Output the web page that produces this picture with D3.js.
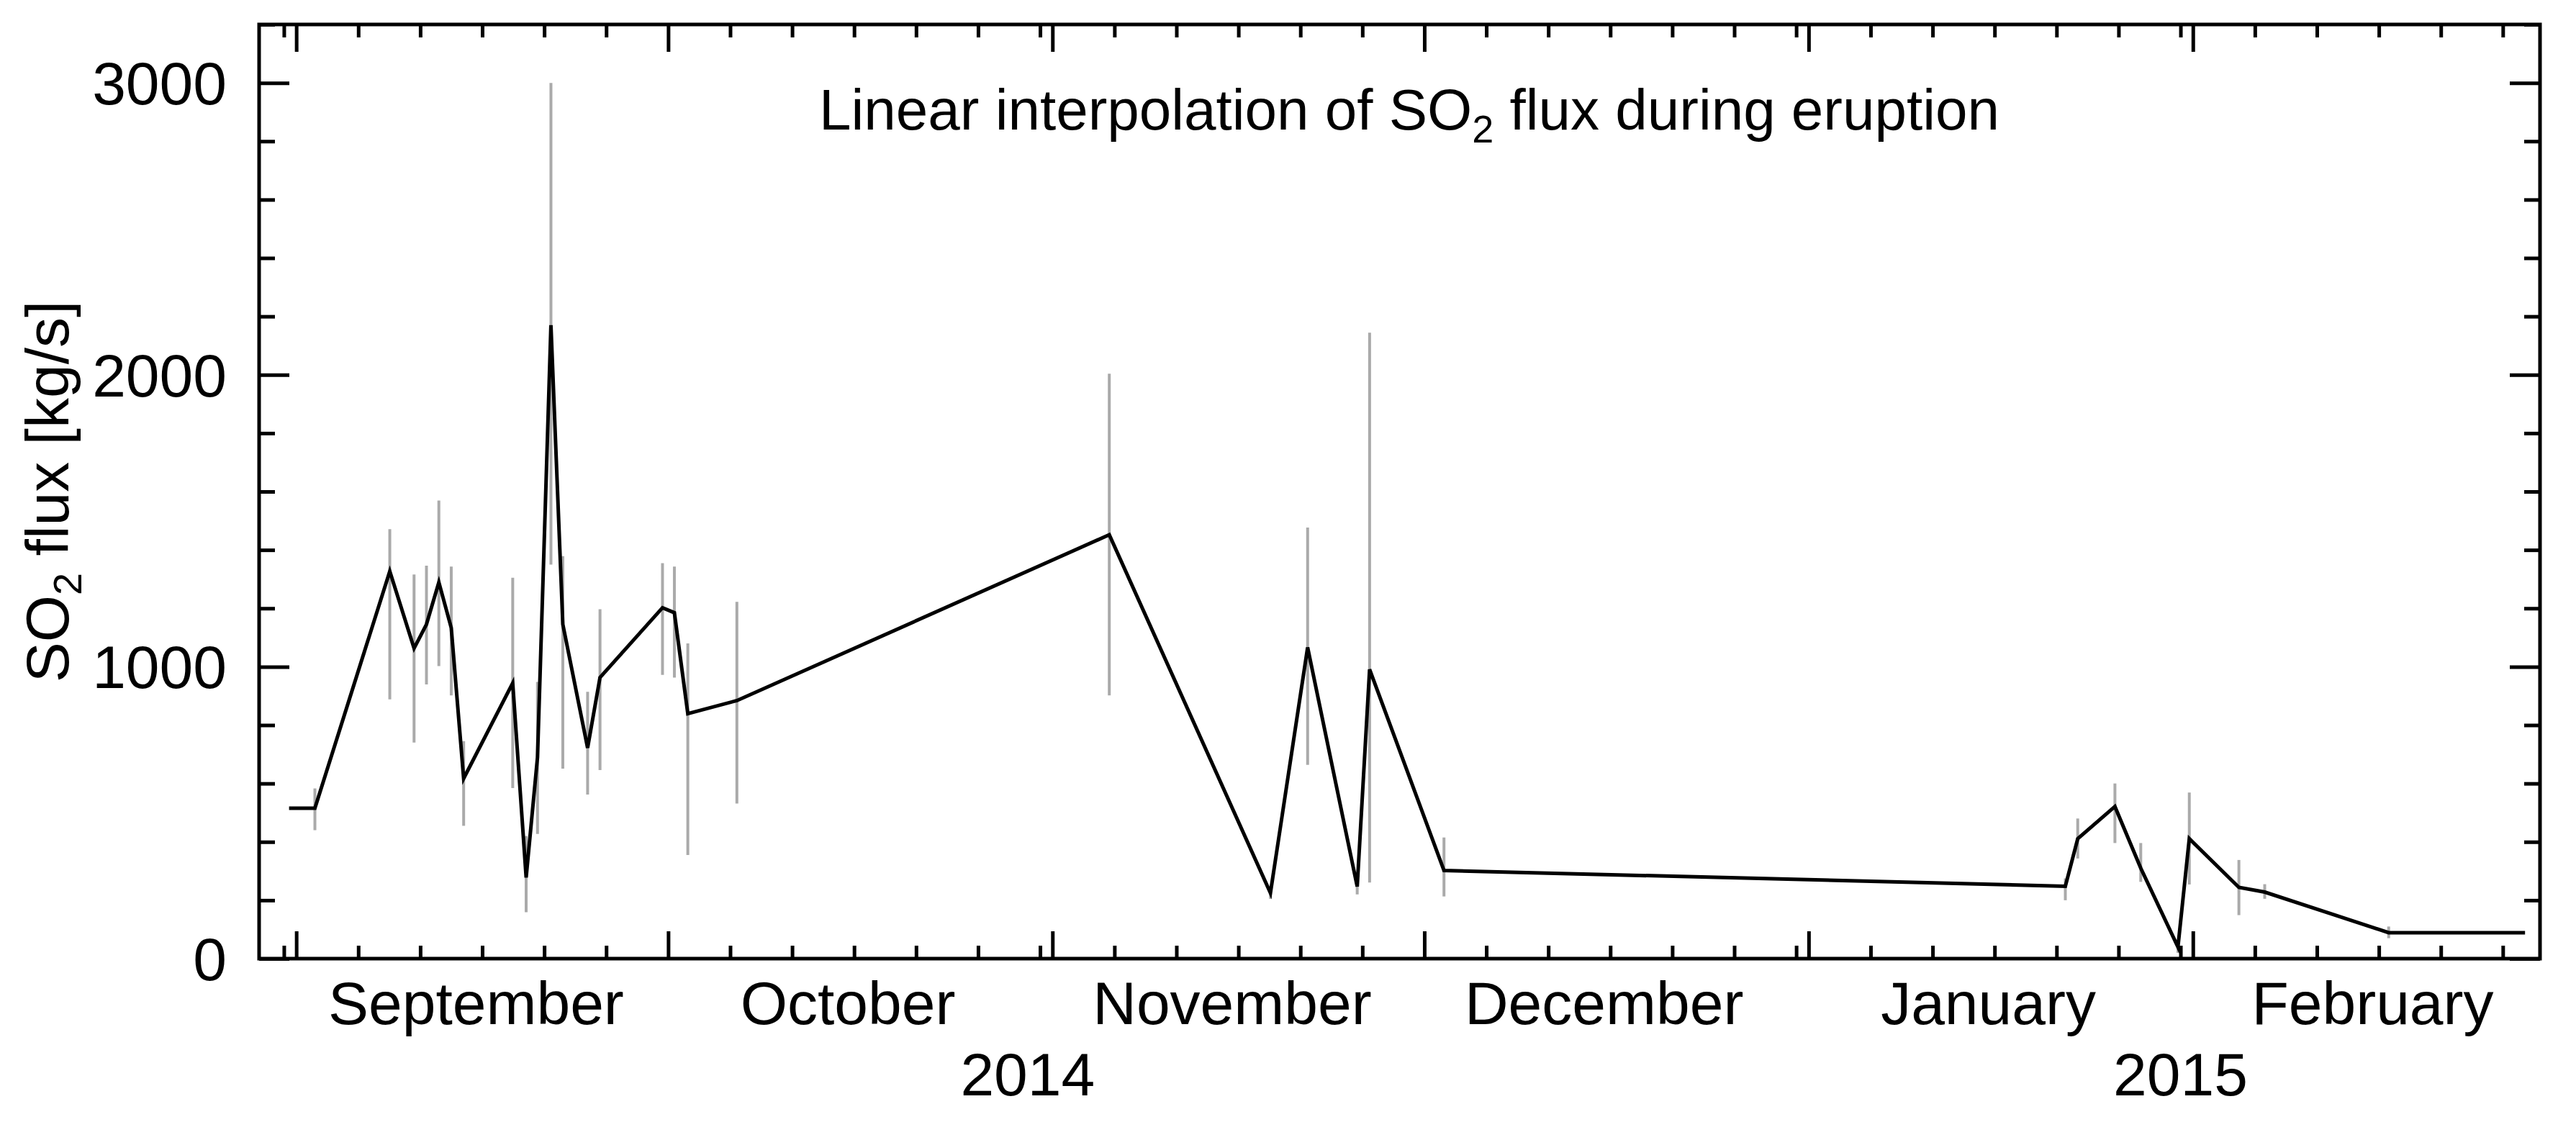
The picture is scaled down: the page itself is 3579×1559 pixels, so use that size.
<!DOCTYPE html>
<html>
<head>
<meta charset="utf-8">
<script src="https://cdn.jsdelivr.net/npm/d3@7"></script>
<style>
  body { margin: 0; background: #fff; }
  text { font-family: "Liberation Sans", Arial, sans-serif; fill: #000; }
</style>
</head>
<body>
<svg id="chart"></svg>
<script>
// measurement times (UTC), flux and error range [kg/s]
const dates = ['2014-08-31T10:00', '2014-09-02T12:00', '2014-09-08T13:00', '2014-09-10T12:00', '2014-09-11T12:00',
  '2014-09-12T12:00', '2014-09-13T12:00', '2014-09-14T12:00', '2014-09-18T11:00', '2014-09-19T13:00',
  '2014-09-20T11:00', '2014-09-21T13:00', '2014-09-22T12:00', '2014-09-24T12:00', '2014-09-25T12:00',
  '2014-09-30T13:00', '2014-10-01T12:00', '2014-10-02T14:00', '2014-10-06T13:00', '2014-11-05T14:00',
  '2014-11-18T14:00', '2014-11-21T14:00', '2014-11-25T14:00', '2014-11-26T14:00', '2014-12-02T14:00',
  '2015-01-21T17:00', '2015-01-22T17:00', '2015-01-25T17:00', '2015-01-27T19:00', '2015-01-30T19:00',
  '2015-01-31T17:00', '2015-02-04T17:00', '2015-02-06T19:00', '2015-02-16T19:00', '2015-02-27T19:00'];
const flux = [515, 515, 1327, 1063, 1145, 1289, 1133, 617, 944, 278, 690, 2170, 1145, 722, 963,
  1202, 1185, 839, 884, 1452, 225, 1066, 247, 991, 302, 248, 411, 521, 310, 40, 411, 244, 228, 89, 89];
const errLow = [null, 440, 888, 740, 939, 1002, 902, 455, 584, 159, 427, 1350, 651, 562, 646,
  972, 963, 355, 531, 902, 205, 664, 220, 261, 213, 200, 343, 396, 263, 20, 254, 149, 205, 70, null];
const errHigh = [null, 583, 1471, 1316, 1346, 1569, 1343, 745, 1305, 420, 948, 3000, 1379, 914, 1197,
  1355, 1343, 1080, 1222, 2004, 245, 1477, 275, 2144, 415, 275, 480, 600, 396, 65, 569, 338, 255, 110, null];
const monthLabels = ['September', 'October', 'November', 'December', 'January', 'February'];
const yearLabels = [{ label: '2014', date: '2014-10-30' }, { label: '2015', date: '2015-01-31' }];

const W = 3579, H = 1559;
const margin = { top: 34, right: 50, bottom: 227, left: 360 };
const iw = W - margin.left - margin.right, ih = H - margin.top - margin.bottom;
const parse = d3.utcParse('%Y-%m-%dT%H:%M');
const parseDay = d3.utcParse('%Y-%m-%d');

const data = dates.map((d, i) => ({ t: parse(d), v: flux[i], lo: errLow[i], hi: errHigh[i] }));

const svg = d3.select('#chart').attr('width', W).attr('height', H);
const g = svg.append('g').attr('transform', `translate(${margin.left},${margin.top})`);

const x = d3.scaleUtc().domain([new Date(Date.UTC(2014, 7, 29)), new Date(Date.UTC(2015, 2, 1))]).range([0, iw]);
const y = d3.scaleLinear().domain([0, 3200]).range([ih, 0]);

// error bars
g.selectAll('.err').data(data.filter(d => d.lo != null)).enter().append('line')
  .attr('x1', d => x(d.t)).attr('x2', d => x(d.t))
  .attr('y1', d => y(d.lo)).attr('y2', d => y(d.hi))
  .attr('stroke', '#aaa').attr('stroke-width', 4);

// interpolated line
g.append('path').datum(data)
  .attr('d', d3.line().x(d => x(d.t)).y(d => y(d.v)))
  .attr('fill', 'none').attr('stroke', '#000').attr('stroke-width', 5)
  .attr('stroke-linejoin', 'miter');

// ticks
const months = d3.utcMonth.range(x.domain()[0], x.domain()[1]);
const minorX = d3.utcDay.range(x.domain()[0], x.domain()[1]).filter(d => [6, 11, 16, 21, 26, 31].includes(d.getUTCDate()));
const tickStyle = sel => sel.call(s => s.select('.domain').remove())
  .call(s => s.selectAll('line').attr('stroke', '#000').attr('stroke-width', 5));

g.append('g').attr('transform', `translate(0,${ih})`)
  .call(d3.axisTop(x).tickValues(months).tickSize(38).tickFormat('')).call(tickStyle);
g.append('g').attr('transform', `translate(0,${ih})`)
  .call(d3.axisTop(x).tickValues(minorX).tickSize(18).tickFormat('')).call(tickStyle);
g.append('g').call(d3.axisBottom(x).tickValues(months).tickSize(38).tickFormat('')).call(tickStyle);
g.append('g').call(d3.axisBottom(x).tickValues(minorX).tickSize(18).tickFormat('')).call(tickStyle);

const majorY = [0, 1000, 2000, 3000];
const minorY = d3.range(0, 3201, 200).filter(v => v % 1000 !== 0);
g.append('g').call(d3.axisRight(y).tickValues(majorY).tickSize(42).tickFormat('')).call(tickStyle);
g.append('g').call(d3.axisRight(y).tickValues(minorY).tickSize(22).tickFormat('')).call(tickStyle);
g.append('g').attr('transform', `translate(${iw},0)`)
  .call(d3.axisLeft(y).tickValues(majorY).tickSize(42).tickFormat('')).call(tickStyle);
g.append('g').attr('transform', `translate(${iw},0)`)
  .call(d3.axisLeft(y).tickValues(minorY).tickSize(22).tickFormat('')).call(tickStyle);

// frame
g.append('rect').attr('width', iw).attr('height', ih)
  .attr('fill', 'none').attr('stroke', '#000').attr('stroke-width', 5);

// y labels
g.selectAll('.ylab').data(majorY).enter().append('text')
  .attr('x', -45).attr('y', d => y(d) + 30)
  .attr('text-anchor', 'end').attr('font-size', 84).text(d => d);

// month and year labels
g.selectAll('.mlab').data(months).enter().append('text')
  .attr('x', d => x(new Date(d.getTime() + 14.5 * 864e5)))
  .attr('y', ih + 91).attr('text-anchor', 'middle').attr('font-size', 84)
  .text((d, i) => monthLabels[i]);
g.selectAll('.yrlab').data(yearLabels).enter().append('text')
  .attr('x', d => x(parseDay(d.date))).attr('y', ih + 190)
  .attr('text-anchor', 'middle').attr('font-size', 84).text(d => d.label);

// axis title
const yt = svg.append('text').attr('transform', `translate(95,${margin.top + ih / 2}) rotate(-90)`)
  .attr('text-anchor', 'middle').attr('font-size', 84);
yt.append('tspan').text('SO');
yt.append('tspan').attr('font-size', 56).attr('dy', 18).text('2');
yt.append('tspan').attr('dy', -18).text(' flux [kg/s]');

// chart title
const tt = svg.append('text').attr('x', 1958).attr('y', 180)
  .attr('text-anchor', 'middle').attr('font-size', 80);
tt.append('tspan').text('Linear interpolation of SO');
tt.append('tspan').attr('font-size', 54).attr('dy', 18).text('2');
tt.append('tspan').attr('dy', -18).text(' flux during eruption');
</script>
</body>
</html>
